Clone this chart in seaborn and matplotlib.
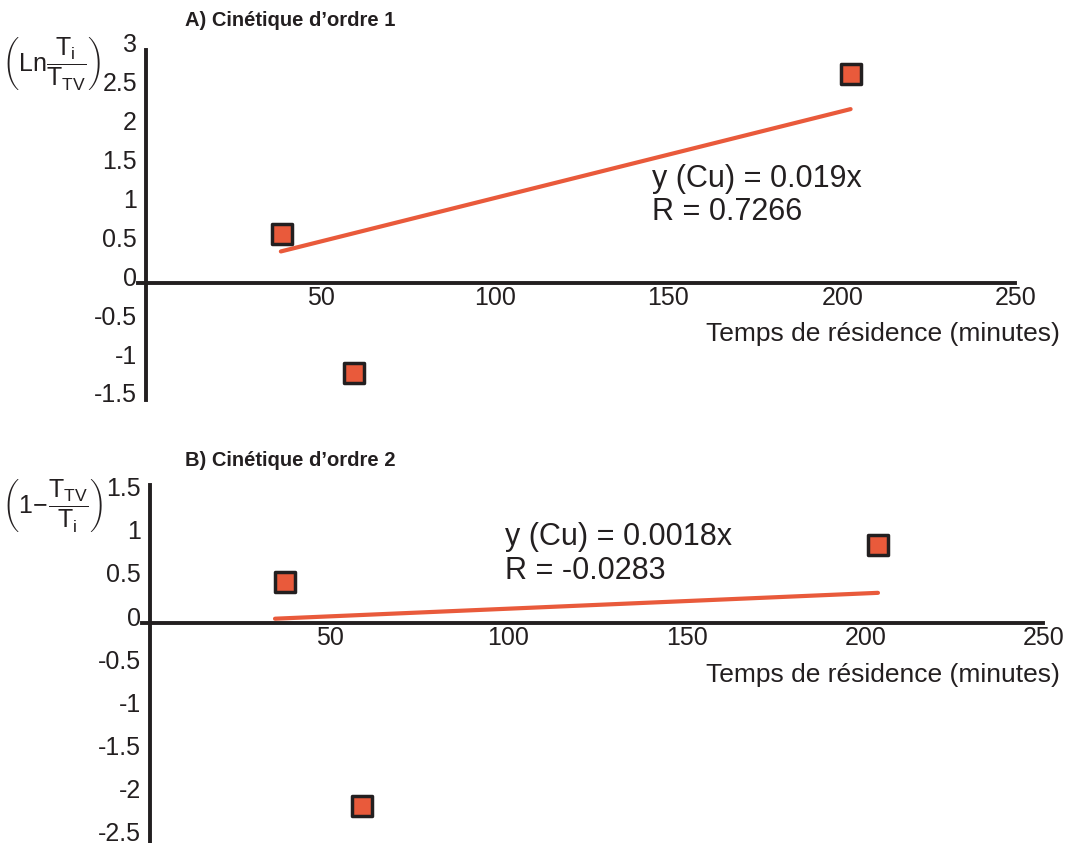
import pandas as pd
import matplotlib
matplotlib.use("Agg")
import matplotlib.pyplot as plt
import matplotlib.transforms as mtransforms
import seaborn as sns

# Donnees
temps_a = [39.0, 59.8, 202.7]
ordre1 = [0.64, -1.15, 2.69]
fit1_x = [38.8, 202.7]
fit1_y = [0.41, 2.24]

temps_b = [37.8, 59.4, 203.9]
ordre2 = [0.47, -2.12, 0.91]
fit2_x = [35.0, 203.8]
fit2_y = [0.05, 0.35]

xticks = [50, 100, 150, 200, 250]
yticks_a = [-1.5, -1, -0.5, 0, 0.5, 1, 1.5, 2, 2.5, 3]
yticks_b = [-2.5, -2, -1.5, -1, -0.5, 0, 0.5, 1, 1.5]

sns.set_style("white")
plt.rcParams['font.family'] = ['Liberation Sans', 'DejaVu Sans']
plt.rcParams['mathtext.fontset'] = 'custom'
plt.rcParams['mathtext.rm'] = 'Liberation Sans'
plt.rcParams['mathtext.it'] = 'Liberation Sans'

orange = '#E95A3B'
noir = '#231F20'

W, H = 1070, 843
fig = plt.figure(figsize=(W / 100, H / 100), dpi=100)


def px_axes(left, top, right, bottom):
    return fig.add_axes([left / W, 1 - bottom / H, (right - left) / W, (bottom - top) / H])


def style_axes(ax, xlim, ylim, yticks):
    ax.set_xlim(*xlim)
    ax.set_ylim(*ylim)
    for s in ['top', 'right']:
        ax.spines[s].set_visible(False)
    for s in ['left', 'bottom']:
        ax.spines[s].set_position(('data', 0))
        ax.spines[s].set_linewidth(2.8)
        ax.spines[s].set_color(noir)
    ax.set_xticks(xticks)
    ax.set_xticklabels([str(t) for t in xticks])
    ax.set_yticks(yticks)
    ax.set_yticklabels([f'{t:g}' for t in yticks])
    ax.tick_params(axis='both', length=0, labelsize=18, labelcolor=noir)
    ax.tick_params(axis='y', pad=6.5)
    ax.tick_params(axis='x', pad=2)
    ax.set_xlabel('')
    ax.set_ylabel('')
    up = mtransforms.ScaledTranslation(0, 0.07, fig.dpi_scale_trans)
    for lab in ax.get_yticklabels():
        lab.set_transform(lab.get_transform() + up)
    right = mtransforms.ScaledTranslation(0.01, 0, fig.dpi_scale_trans)
    for lab in ax.get_xticklabels():
        lab.set_transform(lab.get_transform() + right)


# Panneau A
axA = px_axes(138, 50, 1015, 400)
dfA = pd.DataFrame({'t': temps_a, 'y': ordre1})
sns.lineplot(x=fit1_x, y=fit1_y, ax=axA, color=orange, linewidth=3, zorder=2)
sns.scatterplot(data=dfA, x='t', y='y', ax=axA, marker='s', s=196, color=orange,
                edgecolor=noir, linewidth=2.5, zorder=3)
style_axes(axA, (-2.3, 250), (-1.49, 3.0), yticks_a)
axA.text(145.5, 1.13, 'y (Cu) = 0.019x\nR = 0.7266', fontsize=22, color=noir,
         ha='left', va='center', linespacing=1.15)

# Panneau B
axB = px_axes(142, 485, 1043, 843)
dfB = pd.DataFrame({'t': temps_b, 'y': ordre2})
sns.lineplot(x=fit2_x, y=fit2_y, ax=axB, color=orange, linewidth=3, zorder=2)
sns.scatterplot(data=dfB, x='t', y='y', ax=axB, marker='s', s=196, color=orange,
                edgecolor=noir, linewidth=2.5, zorder=3)
style_axes(axB, (-2.24, 250), (-2.55, 1.6), yticks_b)
axB.text(99.5, 0.80, 'y (Cu) = 0.0018x\nR = -0.0283', fontsize=22, color=noir,
         ha='left', va='center', linespacing=1.15)

# Titres et etiquettes
fig.text(185 / W, 1 - 20 / H, 'A) Cinétique d’ordre 1', fontsize=14.5, fontweight='bold',
         color=noir, ha='left', va='center')
fig.text(185 / W, 1 - 461 / H, 'B) Cinétique d’ordre 2', fontsize=14.5, fontweight='bold',
         color=noir, ha='left', va='center')
fig.text(1060 / W, 1 - 334 / H, 'Temps de résidence (minutes)', fontsize=19,
         color=noir, ha='right', va='center')
fig.text(1060 / W, 1 - 675 / H, 'Temps de résidence (minutes)', fontsize=19,
         color=noir, ha='right', va='center')
fig.text(52 / W, 1 - 64 / H, r'$\left(\mathrm{Ln}\dfrac{\mathrm{T}_{\mathrm{i}}}{\mathrm{T}_{\mathrm{TV}}}\right)$',
         fontsize=18, color=noir, ha='center', va='center')
fig.text(53 / W, 1 - 505 / H, r'$\left(1\!-\!\dfrac{\mathrm{T}_{\mathrm{TV}}}{\mathrm{T}_{\mathrm{i}}}\right)$',
         fontsize=18, color=noir, ha='center', va='center')

plt.savefig('out.png', format='png', dpi=100)
